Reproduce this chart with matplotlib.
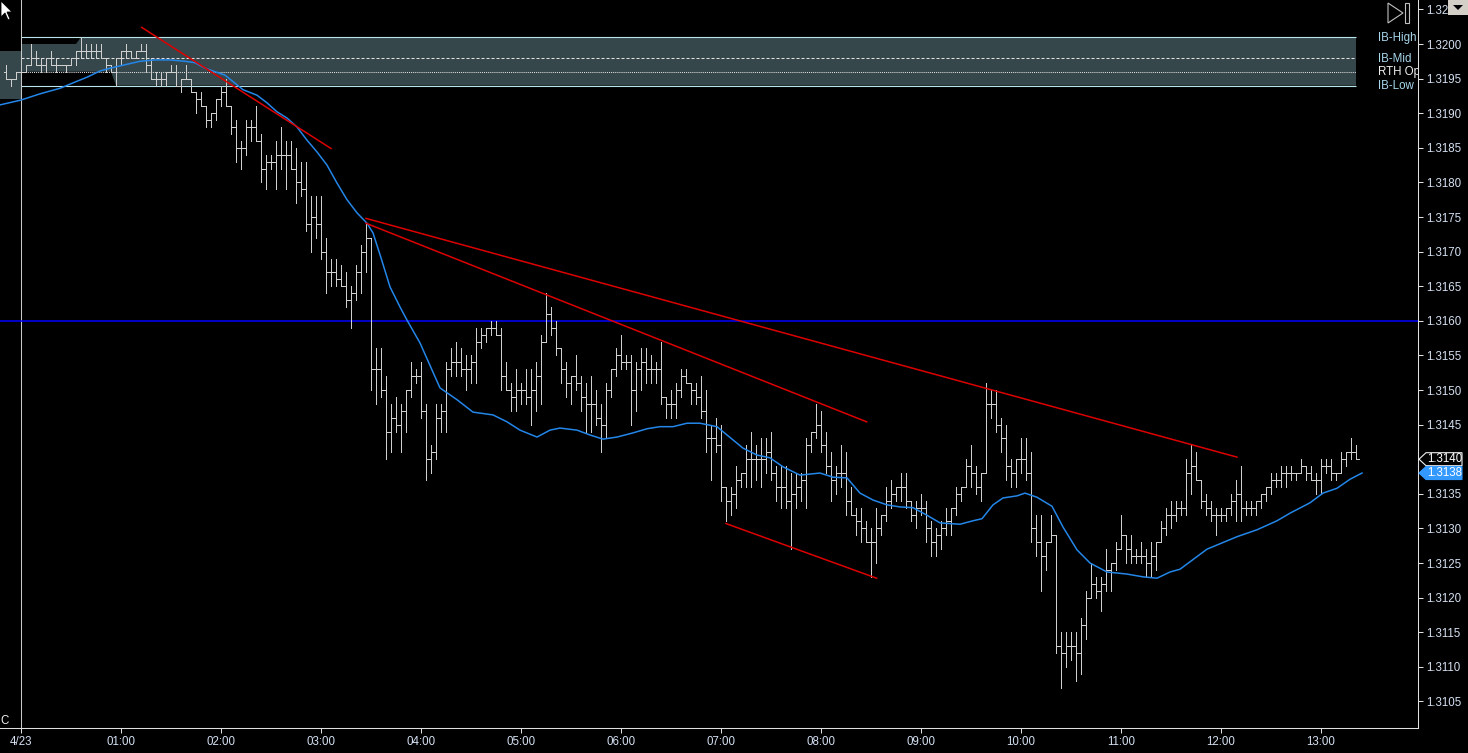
import numpy as np
import matplotlib
matplotlib.use('Agg')
import matplotlib.pyplot as plt
from matplotlib.collections import LineCollection
from matplotlib.patches import Polygon, Rectangle

plt.rcParams['font.family'] = ['Liberation Sans', 'DejaVu Sans']
plt.rcParams['lines.scale_dashes'] = False

# ---------------- data (3-minute bars, first bar 23:51) ----------------
bar_minutes_step = 3
first_bar_minute = -9

highs = [
 1.3197,1.3195,1.3196,1.3196,1.3197,1.3200,1.3199,1.3198,1.3198,1.3199,
 1.3198,1.3197,1.3197,1.3198,1.3199,1.3201,1.3200,1.3200,1.3200,1.3200,
 1.3198,1.3197,1.3198,1.3199,1.3200,1.3199,1.3199,1.3200,1.3200,1.3198,
 1.3196,1.3196,1.3196,1.3197,1.3197,1.3195,1.3197,1.3195,1.3193,1.3193,
 1.3191,1.3190,1.3192,1.3194,1.3195,1.3191,1.3189,1.3186,1.3189,1.3189,
 1.3191,1.3187,1.3184,1.3184,1.3186,1.3188,1.3186,1.3186,1.3185,1.3183,
 1.3183,1.3178,1.3178,1.3178,1.3172,1.3169,1.3169,1.3168,1.3167,1.3165,
 1.3168,1.3171,1.3174,1.3172,1.3156,1.3156,1.3152,1.3148,1.3149,1.3148,
 1.3150,1.3154,1.3153,1.3154,1.3148,1.3142,1.3148,1.3148,1.3154,1.3156,
 1.3157,1.3156,1.3155,1.3155,1.3159,1.3159,1.3159,1.3160,1.3160,1.3159,
 1.3154,1.3151,1.3153,1.3151,1.3153,1.3153,1.3154,1.3158,1.3164,1.3162,
 1.3160,1.3156,1.3154,1.3152,1.3155,1.3152,1.3151,1.3152,1.3150,1.3148,
 1.3151,1.3153,1.3156,1.3158,1.3155,1.3155,1.3154,1.3156,1.3156,1.3155,
 1.3154,1.3157,1.3149,1.3150,1.3151,1.3153,1.3153,1.3151,1.3151,1.3152,
 1.3150,1.3145,1.3146,1.3145,1.3136,1.3136,1.3139,1.3138,1.3142,1.3144,
 1.3142,1.3143,1.3143,1.3144,1.3139,1.3139,1.3139,1.3138,1.3138,1.3138,
 1.3143,1.3144,1.3148,1.3147,1.3144,1.3141,1.3139,1.3142,1.3141,1.3136,
 1.3133,1.3133,1.3131,1.3130,1.3133,1.3132,1.3136,1.3137,1.3136,1.3138,
 1.3138,1.3134,1.3134,1.3135,1.3134,1.3131,1.3130,1.3131,1.3133,1.3133,
 1.3136,1.3136,1.3140,1.3142,1.3139,1.3138,1.3151,1.3150,1.3150,1.3146,
 1.3145,1.3140,1.3140,1.3143,1.3143,1.3141,1.3132,1.3132,1.3128,1.3132,
 1.3129,1.3115,1.3115,1.3115,1.3115,1.3117,1.3121,1.3125,1.3123,1.3123,
 1.3127,1.3125,1.3128,1.3132,1.3129,1.3129,1.3127,1.3128,1.3127,1.3128,
 1.3128,1.3131,1.3133,1.3134,1.3134,1.3134,1.3140,1.3142,1.3141,1.3137,
 1.3135,1.3134,1.3133,1.3133,1.3133,1.3135,1.3137,1.3139,1.3134,1.3134,
 1.3134,1.3135,1.3136,1.3138,1.3138,1.3139,1.3139,1.3139,1.3138,1.3140,
 1.3139,1.3139,1.3138,1.3140,1.3140,1.3140,1.3138,1.3141,1.3141,1.3143,
 1.3142]

lows = [
 1.3195,1.3194,1.3195,1.3195,1.3196,1.3197,1.3197,1.3196,1.3196,1.3197,
 1.3196,1.3197,1.3196,1.3197,1.3197,1.3198,1.3198,1.3198,1.3198,1.3198,
 1.3196,1.3196,1.3194,1.3197,1.3198,1.3198,1.3198,1.3199,1.3196,1.3195,
 1.3194,1.3194,1.3194,1.3196,1.3194,1.3193,1.3195,1.3193,1.3190,1.3191,
 1.3188,1.3188,1.3189,1.3191,1.3191,1.3187,1.3183,1.3182,1.3184,1.3186,
 1.3186,1.3180,1.3179,1.3182,1.3179,1.3182,1.3179,1.3182,1.3177,1.3178,
 1.3173,1.3170,1.3172,1.3169,1.3164,1.3165,1.3165,1.3165,1.3162,1.3159,
 1.3163,1.3164,1.3167,1.3150,1.3148,1.3149,1.3140,1.3141,1.3144,1.3141,
 1.3144,1.3149,1.3151,1.3146,1.3137,1.3138,1.3140,1.3144,1.3144,1.3152,
 1.3152,1.3152,1.3150,1.3151,1.3151,1.3156,1.3157,1.3158,1.3158,1.3150,
 1.3150,1.3147,1.3147,1.3148,1.3148,1.3145,1.3147,1.3148,1.3157,1.3158,
 1.3155,1.3151,1.3149,1.3148,1.3150,1.3147,1.3144,1.3144,1.3145,1.3141,
 1.3143,1.3149,1.3152,1.3153,1.3153,1.3145,1.3147,1.3150,1.3151,1.3151,
 1.3151,1.3148,1.3146,1.3146,1.3146,1.3149,1.3151,1.3148,1.3148,1.3146,
 1.3141,1.3137,1.3141,1.3134,1.3131,1.3132,1.3133,1.3136,1.3136,1.3136,
 1.3137,1.3136,1.3138,1.3137,1.3134,1.3133,1.3133,1.3127,1.3133,1.3134,
 1.3133,1.3141,1.3143,1.3141,1.3138,1.3134,1.3135,1.3136,1.3132,1.3132,
 1.3129,1.3128,1.3128,1.3123,1.3125,1.3129,1.3131,1.3133,1.3134,1.3134,
 1.3133,1.3131,1.3130,1.3132,1.3128,1.3126,1.3126,1.3127,1.3129,1.3129,
 1.3132,1.3134,1.3136,1.3136,1.3135,1.3134,1.3138,1.3146,1.3144,1.3141,
 1.3137,1.3136,1.3136,1.3138,1.3137,1.3128,1.3126,1.3121,1.3124,1.3128,
 1.3112,1.3107,1.3110,1.3111,1.3108,1.3109,1.3114,1.3120,1.3120,1.3118,
 1.3121,1.3121,1.3124,1.3127,1.3125,1.3125,1.3125,1.3125,1.3123,1.3123,
 1.3124,1.3128,1.3129,1.3130,1.3131,1.3132,1.3132,1.3135,1.3137,1.3133,
 1.3132,1.3131,1.3129,1.3131,1.3131,1.3132,1.3131,1.3131,1.3132,1.3132,
 1.3132,1.3133,1.3134,1.3135,1.3136,1.3136,1.3136,1.3137,1.3137,1.3138,
 1.3137,1.3137,1.3135,1.3135,1.3138,1.3137,1.3137,1.3138,1.3139,1.3140,
 1.3140]

opens = [
 1.3196,1.3195,1.3195,1.3196,1.3196,1.3197,1.3198,1.3197,1.3197,1.3198,
 1.3197,1.3197,1.3197,1.3197,1.3198,1.3199,1.3199,1.3199,1.3199,1.3199,
 1.3198,1.3197,1.3196,1.3198,1.3199,1.3199,1.3198,1.3199,1.3199,1.3197,
 1.3195,1.3195,1.3195,1.3196,1.3196,1.3194,1.3195,1.3195,1.3193,1.3192,
 1.3191,1.3189,1.3190,1.3192,1.3193,1.3191,1.3188,1.3185,1.3185,1.3188,
 1.3188,1.3186,1.3182,1.3183,1.3183,1.3184,1.3184,1.3184,1.3182,1.3180,
 1.3179,1.3174,1.3175,1.3174,1.3170,1.3167,1.3167,1.3166,1.3165,1.3163,
 1.3164,1.3167,1.3170,1.3172,1.3153,1.3153,1.3150,1.3144,1.3146,1.3145,
 1.3147,1.3150,1.3152,1.3152,1.3147,1.3140,1.3141,1.3146,1.3147,1.3153,
 1.3154,1.3154,1.3153,1.3153,1.3154,1.3157,1.3158,1.3159,1.3159,1.3158,
 1.3152,1.3150,1.3149,1.3150,1.3150,1.3149,1.3150,1.3152,1.3157,1.3161,
 1.3159,1.3156,1.3153,1.3151,1.3152,1.3151,1.3149,1.3148,1.3148,1.3146,
 1.3145,1.3150,1.3153,1.3155,1.3154,1.3154,1.3150,1.3153,1.3154,1.3153,
 1.3153,1.3153,1.3149,1.3148,1.3148,1.3150,1.3152,1.3151,1.3150,1.3149,
 1.3147,1.3143,1.3143,1.3142,1.3136,1.3134,1.3135,1.3137,1.3138,1.3140,
 1.3140,1.3140,1.3140,1.3141,1.3138,1.3136,1.3136,1.3134,1.3135,1.3136,
 1.3137,1.3142,1.3144,1.3145,1.3142,1.3139,1.3137,1.3138,1.3138,1.3134,
 1.3132,1.3131,1.3130,1.3128,1.3128,1.3130,1.3132,1.3134,1.3135,1.3136,
 1.3136,1.3134,1.3132,1.3133,1.3133,1.3130,1.3128,1.3129,1.3130,1.3131,
 1.3133,1.3135,1.3136,1.3139,1.3138,1.3136,1.3138,1.3148,1.3148,1.3145,
 1.3143,1.3139,1.3138,1.3140,1.3140,1.3138,1.3130,1.3128,1.3126,1.3128,
 1.3129,1.3113,1.3112,1.3113,1.3113,1.3112,1.3116,1.3120,1.3122,1.3121,
 1.3122,1.3124,1.3125,1.3127,1.3129,1.3127,1.3126,1.3126,1.3126,1.3125,
 1.3126,1.3128,1.3130,1.3132,1.3132,1.3133,1.3133,1.3138,1.3139,1.3137,
 1.3134,1.3133,1.3132,1.3132,1.3132,1.3133,1.3134,1.3135,1.3133,1.3133,
 1.3133,1.3134,1.3135,1.3136,1.3137,1.3137,1.3138,1.3138,1.3138,1.3138,
 1.3139,1.3138,1.3137,1.3137,1.3139,1.3139,1.3138,1.3138,1.3140,1.3141,
 1.3141]

closes = [
 1.3195,1.3195,1.3196,1.3196,1.3197,1.3198,1.3197,1.3197,1.3198,1.3197,
 1.3197,1.3197,1.3197,1.3198,1.3199,1.3199,1.3199,1.3199,1.3199,1.3198,
 1.3197,1.3196,1.3198,1.3199,1.3199,1.3198,1.3199,1.3199,1.3197,1.3195,
 1.3195,1.3195,1.3196,1.3196,1.3194,1.3195,1.3195,1.3193,1.3192,1.3191,
 1.3189,1.3190,1.3192,1.3193,1.3191,1.3188,1.3185,1.3185,1.3188,1.3188,
 1.3186,1.3182,1.3183,1.3183,1.3184,1.3184,1.3184,1.3182,1.3180,1.3179,
 1.3174,1.3175,1.3174,1.3170,1.3167,1.3167,1.3166,1.3165,1.3163,1.3164,
 1.3167,1.3170,1.3172,1.3153,1.3153,1.3150,1.3144,1.3146,1.3145,1.3147,
 1.3150,1.3152,1.3152,1.3147,1.3140,1.3141,1.3146,1.3147,1.3153,1.3154,
 1.3154,1.3153,1.3153,1.3154,1.3157,1.3158,1.3159,1.3159,1.3158,1.3152,
 1.3150,1.3149,1.3150,1.3150,1.3149,1.3150,1.3152,1.3157,1.3161,1.3159,
 1.3156,1.3153,1.3151,1.3152,1.3151,1.3149,1.3148,1.3148,1.3146,1.3145,
 1.3150,1.3153,1.3155,1.3154,1.3154,1.3150,1.3153,1.3154,1.3153,1.3153,
 1.3153,1.3149,1.3148,1.3148,1.3150,1.3152,1.3151,1.3150,1.3149,1.3147,
 1.3143,1.3143,1.3142,1.3136,1.3134,1.3135,1.3137,1.3138,1.3140,1.3140,
 1.3140,1.3140,1.3141,1.3138,1.3136,1.3136,1.3134,1.3135,1.3136,1.3137,
 1.3142,1.3144,1.3145,1.3142,1.3139,1.3137,1.3138,1.3138,1.3134,1.3132,
 1.3131,1.3130,1.3128,1.3128,1.3130,1.3132,1.3134,1.3135,1.3136,1.3136,
 1.3134,1.3132,1.3133,1.3133,1.3130,1.3128,1.3129,1.3130,1.3131,1.3133,
 1.3135,1.3136,1.3139,1.3138,1.3136,1.3138,1.3148,1.3148,1.3145,1.3143,
 1.3139,1.3138,1.3140,1.3140,1.3138,1.3130,1.3128,1.3126,1.3128,1.3129,
 1.3113,1.3112,1.3113,1.3113,1.3112,1.3116,1.3120,1.3122,1.3121,1.3122,
 1.3124,1.3125,1.3127,1.3129,1.3127,1.3126,1.3126,1.3126,1.3125,1.3126,
 1.3128,1.3130,1.3132,1.3132,1.3133,1.3133,1.3138,1.3139,1.3137,1.3134,
 1.3133,1.3132,1.3132,1.3132,1.3133,1.3134,1.3135,1.3133,1.3133,1.3133,
 1.3134,1.3135,1.3136,1.3137,1.3137,1.3138,1.3138,1.3138,1.3138,1.3139,
 1.3138,1.3137,1.3137,1.3139,1.3139,1.3138,1.3138,1.3140,1.3141,1.3141,
 1.3140]

# moving average, minutes after 00:00
ma_minutes = [-12.6, 0, 11.4, 23.4, 32.4, 39.6, 47.4, 53.4, 62.4, 71.4, 80.4, 89.4,
 98.4, 104.4, 110.4, 116.4, 122.4, 129.6, 133.2, 141.6, 147.6, 153.6, 159.6, 165.6,
 171.6, 177.6, 183.6, 189.6, 195.6, 201.6, 207.6, 211.2, 216, 221.4, 227.4, 231.6,
 239.4, 251.4, 261.6, 271.2, 283.2, 291.6, 299.4, 309.6, 317.4, 323.4, 333.6, 341.4,
 349.2, 357.6, 367.2, 375.6, 383.4, 391.2, 399.6, 407.4, 417.6, 423.6, 433.2, 441.6,
 449.4, 457.2, 467.4, 479.4, 487.2, 495.6, 503.4, 511.2, 519.6, 527.4, 535.2, 543.6,
 551.4, 563.4, 571.2, 576.6, 583.2, 589.2, 597.6, 602.4, 609.6, 618.6, 625.2, 633.6,
 641.4, 651.6, 663.6, 673.2, 681.6, 689.4, 695.4, 711.6, 729.6, 741.6, 753.6, 761.4,
 773.4, 781.2, 789.6, 797.4, 804.6]
ma_values = [1.31912, 1.31919, 1.31928, 1.31936, 1.31945, 1.31952, 1.31961, 1.31965,
 1.31970, 1.31975, 1.31977, 1.31977, 1.31975, 1.31973, 1.31965, 1.31960, 1.31955,
 1.31941, 1.31934, 1.31926, 1.31915, 1.31902, 1.31893, 1.31880, 1.31861, 1.31844,
 1.31825, 1.31799, 1.31775, 1.31756, 1.31741, 1.31727, 1.31691, 1.31649, 1.31620,
 1.31601, 1.31568, 1.31503, 1.31486, 1.31468, 1.31464, 1.31454, 1.31442, 1.31432,
 1.31442, 1.31445, 1.31442, 1.31435, 1.31429, 1.31432, 1.31438, 1.31444, 1.31447,
 1.31447, 1.31452, 1.31452, 1.31447, 1.31435, 1.31416, 1.31406, 1.31402, 1.31389,
 1.31377, 1.31380, 1.31374, 1.31373, 1.31351, 1.31341, 1.31334, 1.31331, 1.31330,
 1.31319, 1.31308, 1.31306, 1.31311, 1.31314, 1.31334, 1.31344, 1.31347, 1.31351,
 1.31345, 1.31332, 1.31302, 1.31269, 1.31250, 1.31237, 1.31234, 1.31230, 1.31228,
 1.31237, 1.31241, 1.31270, 1.31288, 1.31298, 1.31311, 1.31322, 1.31337, 1.31351,
 1.31358, 1.31371, 1.31380]

# trend lines: (minute0, price0, minute1, price1)
trend_lines = [
    (72.4, 1.32024, 186.0, 1.31849),
    (207.0, 1.31748, 729.6, 1.31403),
    (207.0, 1.31741, 507.4, 1.31454),
    (423.0, 1.31307, 513.4, 1.31228),
]
level_line = 1.3160

# initial balance
ib_high, ib_low, ib_mid, rth_open = 1.3201, 1.3194, 1.3198, 1.3196
ib_first_high, ib_first_low = 1.3200, 1.3196
ib_high_minute, ib_low_minute = 36, 57
ib_end_minute = 801
prev_zone_high, prev_zone_low = 1.3199, 1.3192

hour_labels = ['4/23'] + ['%02d:00' % h for h in range(1, 14)]
price_ticks = [round(1.3105 + 0.0005 * k, 4) for k in range(21)]

# ---------------- figure ----------------
W, H = 1468, 753
fig = plt.figure(figsize=(W / 100, H / 100), dpi=100, facecolor='black')
ax = fig.add_axes([0, 25 / H, 1418 / W, 728 / H])
ax.set_facecolor('black')
PX = 0.6   # minutes per pixel
ax.set_xlim(-21 * PX, (1418 - 21) * PX)
ax.set_ylim(1.3200 - 684 / 69200, 1.3200 + 44 / 69200)

box_col = '#36474b'
# previous zone
ax.fill_between([-13, 0], prev_zone_low, prev_zone_high, color=box_col, lw=0, zorder=1)
# developing IB
poly = [(0, ib_first_high), (ib_high_minute - 3, ib_first_high), (ib_high_minute, ib_high),
        (ib_end_minute, ib_high), (ib_end_minute, ib_low), (ib_low_minute, ib_low),
        (ib_low_minute - 3, ib_first_low), (0, ib_first_low)]
ax.add_patch(Polygon(poly, closed=True, facecolor=box_col, edgecolor='none', zorder=1))
ax.hlines([ib_high, ib_low], 0, ib_end_minute, colors='#b8e4ec', lw=0.8, zorder=2)
ax.plot([0, ib_end_minute], [ib_mid, ib_mid], color='#e0e0e0', lw=0.75,
        dashes=(2.2, 1.4), zorder=2)
ax.plot([0, ib_end_minute], [rth_open, rth_open], color='#e0e0e0', lw=0.75,
        dashes=(0.75, 0.75), zorder=2)

# session line
ax.axvline(0, color='#c8c8c8', lw=0.75, zorder=2)
# level line
ax.axhline(level_line, color='#0000ff', lw=1.1, zorder=2)

# OHLC bars
n = len(highs)
tms = first_bar_minute + bar_minutes_step * np.arange(n)
segs = []
tick = 1.5
for t, o, h, l, c in zip(tms, opens, highs, lows, closes):
    segs.append([(t, l), (t, h)])
    segs.append([(t - tick, o), (t, o)])
    segs.append([(t, c), (t + tick, c)])
ax.add_collection(LineCollection(segs, colors='#cfcfcf', linewidths=0.68,
                                 antialiaseds=False, zorder=3))

# moving average
ax.plot(ma_minutes, ma_values, color='#2386e8', lw=1.1, zorder=4)

# trend lines
for t0, p0, t1, p1 in trend_lines:
    ax.plot([t0, t1], [p0, p1], color='#dd0000', lw=1.1, zorder=5)

# IB labels
lab_x = (1378 - 21) * PX
for txt, p, col in [('IB-High', ib_high, '#a8d8ec'), ('IB-Mid', ib_mid, '#a8d8ec'),
                    ('RTH Op', rth_open, '#f0f0f0'), ('IB-Low', ib_low, '#a8d8ec')]:
    ax.text(lab_x, p - 0.00001, txt, color=col, fontsize=8.3, va='center', ha='left',
            clip_on=True, zorder=6)

# axes styling
for s in ['top', 'left']:
    ax.spines[s].set_visible(False)
for s in ['right', 'bottom']:
    ax.spines[s].set_color('#e0e0e0')
    ax.spines[s].set_linewidth(0.75)
ax.yaxis.tick_right()
ax.set_yticks(price_ticks)
ax.set_yticklabels(['%.4f' % p for p in price_ticks])
ax.set_xticks([60 * h for h in range(len(hour_labels))])
ax.set_xticklabels(hour_labels)
ax.tick_params(axis='both', colors='#e0e0e0', length=3.6, width=0.75,
               labelsize=8.3, labelcolor='#d4e0f2', pad=2.2)

# ---------------- overlay (pixel coordinates) ----------------
ov = fig.add_axes([0, 0, 1, 1], zorder=10)
ov.set_xlim(0, W)
ov.set_ylim(H, 0)
ov.axis('off')
ov.patch.set_alpha(0)


def ypix(p):
    return H - ax.transData.transform((0, p))[1]


def price_box(p, face, edge, text_col):
    y = ypix(p)
    pts = [(1419, y), (1426, y - 6.5), (1462, y - 6.5), (1462, y + 6.5), (1426, y + 6.5)]
    ov.add_patch(Polygon(pts, closed=True, facecolor=face, edgecolor=edge, lw=0.8))
    ov.text(1427, y, '%.4f' % p, color=text_col, fontsize=8.3, va='center', ha='left')


price_box(closes[-1], 'black', '#f0f0f0', '#ffffff')
price_box(ma_values[-1], '#3399ff', '#3399ff', '#ffffff')

# top-right icons
ov.add_patch(Polygon([(1388, 3), (1388, 23), (1403, 13)], closed=True, fill=False,
                     edgecolor='#c0c0c0', lw=0.8))
ov.add_patch(Rectangle((1405, 3), 4, 20, fill=False, edgecolor='#c0c0c0', lw=0.8))
ov.add_patch(Rectangle((1448, 0), 20, 15, facecolor='#d4d0c8', edgecolor='none'))
ov.add_patch(Polygon([(1453, 5), (1463, 5), (1458, 10)], closed=True, facecolor='black'))
# cursor arrow
ov.add_patch(Polygon([(1, 1), (1, 17), (5, 13), (8, 20), (10, 19), (7, 12), (12, 12)],
                     closed=True, facecolor='white', edgecolor='black', lw=0.6))
ov.text(0, 721, 'C', color='#f0f0f0', fontsize=8.3, va='center', ha='left')

fig.savefig('out.png', dpi=100, facecolor='black')
